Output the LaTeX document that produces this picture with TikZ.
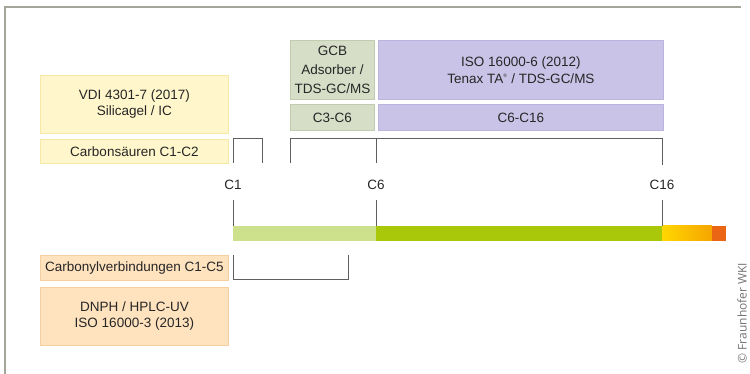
\documentclass[tikz,border=0pt]{standalone}
\usepackage{fontspec}
\setmainfont{Liberation Sans}
\newfontfamily\wkifont{Open Sans}
\usetikzlibrary{positioning,calc}
\definecolor{txt}{RGB}{38,38,38}
\definecolor{lineg}{RGB}{95,95,95}
\definecolor{frameg}{RGB}{165,165,155}
\definecolor{yelfill}{RGB}{255,246,203}
\definecolor{yelline}{RGB}{246,232,165}
\definecolor{sagefill}{RGB}{214,222,199}
\definecolor{sageline}{RGB}{192,203,176}
\definecolor{lavfill}{RGB}{201,196,231}
\definecolor{lavline}{RGB}{186,181,222}
\definecolor{peachfill}{RGB}{255,226,190}
\definecolor{peachline}{RGB}{246,207,160}
\definecolor{barlight}{RGB}{205,225,140}
\definecolor{bargreen}{RGB}{170,200,10}
\definecolor{baryellow}{RGB}{255,215,0}
\definecolor{barorange}{RGB}{246,165,0}
\definecolor{bardark}{RGB}{234,102,20}
\newcommand{\lbl}{\fontsize{13.5}{16}\selectfont}

\begin{document}
\begin{tikzpicture}[x=1pt,y=-1pt,
  box/.style={draw=#1line, fill=#1fill, line width=0.8pt, inner sep=0pt,
    anchor=north west, align=center, text=txt, font=\lbl},
  bracket/.style={draw=lineg, line width=1pt},
  clabel/.style={text=txt, font=\lbl, inner sep=1pt}]
\useasboundingbox (0,0) rectangle (750,374);
% frame
\draw[frameg, line width=1.2pt] (5,374) -- (5,7) -- (741,7);

% method boxes
\node[box=yel, minimum width=188pt, minimum height=58pt] (vdi) at (40,75) {VDI 4301-7 (2017)\\Silicagel / IC};
\node[box=yel, minimum width=188pt, minimum height=24pt] (carbon) at (40,139) {Carbonsäuren C1-C2};
\node[box=sage, minimum width=84pt, minimum height=59pt, font=\fontsize{13.5}{19}\selectfont] (gcb) at (290,40) {GCB\\Adsorber /\\TDS-GC/MS};
\node[box=sage, minimum width=84pt, minimum height=26pt] (gcbrange) at (290,104) {C3-C6};
\node[box=lav, minimum width=285pt, minimum height=59pt, font=\fontsize{13.5}{17}\selectfont] (iso) at (378,40) {ISO 16000-6 (2012)\\Tenax TA\textsuperscript{\tiny ®} / TDS-GC/MS};
\node[box=lav, minimum width=285pt, minimum height=26pt] (isorange) at (378,104) {C6-C16};
\node[box=peach, minimum width=188pt, minimum height=25pt] (carbonyl) at (40,255) {Carbonylverbindungen C1-C5};
\node[box=peach, minimum width=188pt, minimum height=58pt] (dnph) at (40,287) {DNPH / HPLC-UV\\ISO 16000-3 (2013)};

% carbon number labels
\node[clabel] (c1) at (233,185) {C1};
\node[clabel] (c6) at (376,185) {C6};
\node[clabel] (c16) at (662,185) {C16};

% scale bar
\coordinate (b1) at (233,226);
\coordinate (b6) at (376,226);
\coordinate (b16) at (662,226);
\fill[barlight] (b1) rectangle (376,241);
\fill[bargreen] (b6) rectangle (662,241);
\shade[left color=baryellow, right color=barorange] (b16) rectangle (712,241);
\fill[bardark] (712,226) rectangle (726,241);

% ticks down to the bar
\coordinate (t1) at (233,200);
\coordinate (t6) at (376,200);
\coordinate (t16) at (662,200);
\draw[bracket] (t1) -- (b1);
\draw[bracket] (t6) -- (b6);
\draw[bracket] (t16) -- (b16);

% upper brackets
\draw[bracket] (233,163) -- (233,139) -- (262,139) -- (262,163);
\draw[bracket] (290,163) -- (290,139) -- (662,139) -- (662,165);
\draw[bracket] (376,139) -- (376,163);

% lower bracket
\draw[bracket] (233,255) -- (233,280) -- (348,280) -- (348,255);

% copyright
\node[rotate=90, text=black!55, font=\wkifont\fontsize{12}{14}\selectfont, inner sep=0pt] (copy) at (742,313) {© Fraunhofer WKI};
\end{tikzpicture}
\end{document}
